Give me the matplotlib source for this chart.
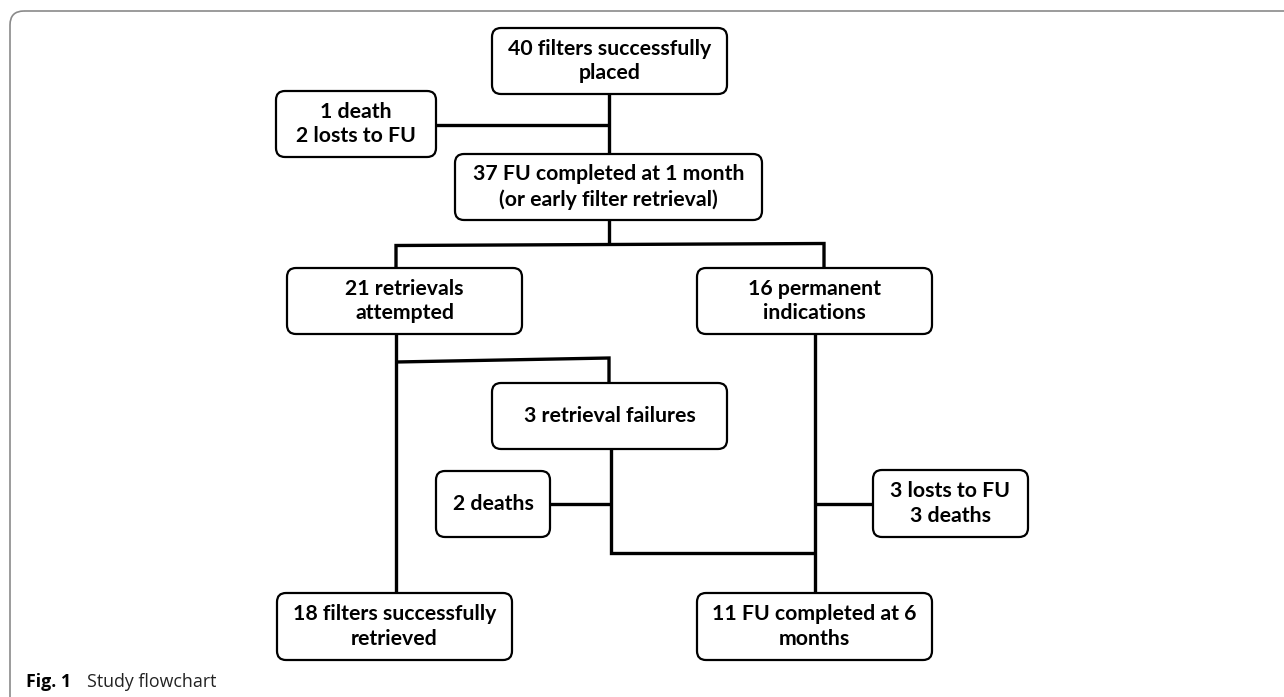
import matplotlib
matplotlib.use("Agg")
import matplotlib.pyplot as plt
from matplotlib.patches import FancyBboxPatch

# --- Data: box labels ---
labels = [
    "40 filters successfully\nplaced",
    "1 death\n2 losts to FU",
    "37 FU completed at 1 month\n(or early filter retrieval)",
    "21 retrievals\nattempted",
    "16 permanent\nindications",
    "3 retrieval failures",
    "2 deaths",
    "3 losts to FU\n3 deaths",
    "18 filters successfully\nretrieved",
    "11 FU completed at 6\nmonths",
]
caption_bold = "Fig. 1"
caption_text = "Study flowchart"

# --- Layout (pixel coords, y down): x0, y0, x1, y1 ---
boxes = [
    (492, 28, 727, 94),
    (276, 91, 436, 157),
    (455, 154, 762, 220),
    (287, 268, 522, 334),
    (697, 268, 932, 334),
    (492, 383, 727, 449),
    (436, 471, 550, 537),
    (873, 470, 1028, 537),
    (277, 593, 512, 660),
    (697, 593, 932, 660),
]
connectors = [
    [(609, 94), (609, 154)],
    [(436, 125), (609, 125)],
    [(609, 220), (609, 244)],
    [(396, 268), (396, 245.5), (824, 243.5), (824, 268)],
    [(396, 334), (396, 593)],
    [(396, 362), (609, 358), (609, 383)],
    [(611, 449), (611, 553), (815, 553)],
    [(550, 504), (611, 504)],
    [(815, 334), (815, 593)],
    [(815, 504), (873, 504)],
]

W, H = 1284, 697
fig = plt.figure(figsize=(W / 100, H / 100), dpi=100)
ax = fig.add_axes([0, 0, 1, 1])
ax.set_xlim(0, W)
ax.set_ylim(H, 0)
ax.axis("off")

# outer frame
frame = FancyBboxPatch((10, 11), W + 40, H + 40,
                       boxstyle="round,pad=0,rounding_size=14",
                       fc="none", ec="#8a8a8a", lw=1.2)
ax.add_patch(frame)

# connectors
for pts in connectors:
    xs, ys = zip(*pts)
    ax.plot(xs, ys, color="black", lw=2.4, solid_capstyle="butt",
            solid_joinstyle="miter", zorder=1)

# boxes
for (x0, y0, x1, y1), lab in zip(boxes, labels):
    p = FancyBboxPatch((x0, y0), x1 - x0, y1 - y0,
                       boxstyle="round,pad=0,rounding_size=9",
                       fc="white", ec="black", lw=1.6, zorder=2)
    ax.add_patch(p)
    ax.text((x0 + x1) / 2, (y0 + y1) / 2, lab, ha="center", va="center",
            fontsize=15.3, fontweight="bold", family="Lato",
            linespacing=1.3, zorder=3)

# caption
ax.text(26, 682, caption_bold, fontsize=12.8, fontweight="bold",
        family="Open Sans", va="center", ha="left")
ax.text(87, 682, caption_text, fontsize=12.8, family="Open Sans",
        va="center", ha="left", color="#222222")

fig.savefig("out.png", dpi=100)
